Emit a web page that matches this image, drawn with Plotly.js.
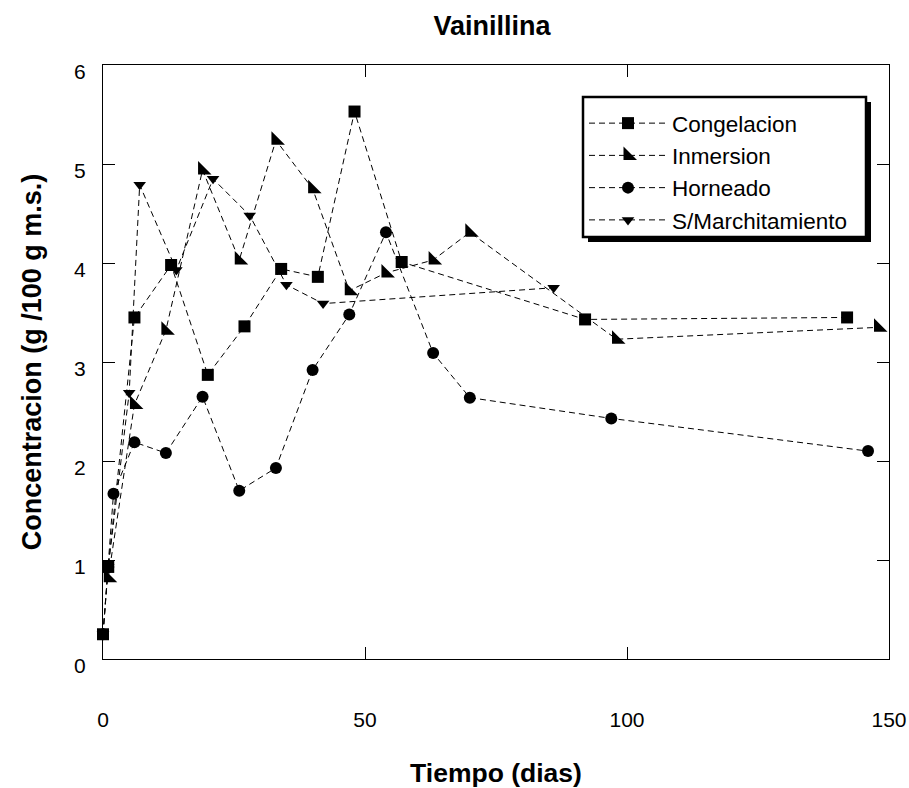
<!DOCTYPE html>
<html>
<head>
<meta charset="utf-8">
<script src="https://cdn.plot.ly/plotly-3.0.1.min.js"></script>
<style>html,body{margin:0;padding:0;background:#fff;}#chart{width:909px;height:788px;}</style>
</head>
<body>
<div id="chart"></div>
<script>
// ---- data ----
const seriesNames = ["Congelacion", "Inmersion", "Horneado", "S/Marchitamiento"];

const congX = [0, 1, 6, 13, 20, 27, 34, 41, 48, 57, 92, 142];
const congY = [0.25, 0.93, 3.45, 3.98, 2.87, 3.36, 3.94, 3.86, 5.53, 4.01, 3.43, 3.45];

const inmX = [1, 6, 12, 19, 26, 33, 40, 47, 54, 63, 70, 98, 148];
const inmY = [0.82, 2.57, 3.32, 4.94, 4.03, 5.24, 4.75, 3.72, 3.9, 4.03, 4.31, 3.23, 3.35];

const hornX = [0, 1, 2, 6, 12, 19, 26, 33, 40, 47, 54, 63, 70, 97, 146];
const hornY = [0.25, 0.93, 1.67, 2.19, 2.08, 2.65, 1.7, 1.93, 2.92, 3.48, 4.31, 3.09, 2.64, 2.43, 2.1];

const smX = [0, 1, 5, 7, 14, 21, 28, 35, 42, 86];
const smY = [0.25, 0.93, 2.69, 4.79, 3.93, 4.85, 4.48, 3.78, 3.59, 3.75];

const xTicks = [0, 50, 100, 150];
const yTicks = [0, 1, 2, 3, 4, 5, 6];

// ---- styling ----
const FONT = "Arial, 'Liberation Sans', Helvetica, sans-serif";
const lineStyle = {color: "#000", width: 1, dash: "6px,4px"};

function mk(name, x, y, symbol, size) {
  return {
    type: "scatter", mode: "lines+markers", name: name, x: x, y: y,
    line: lineStyle, cliponaxis: false,
    marker: {symbol: symbol, size: size, color: "#000", line: {width: 0}},
    hoverinfo: "x+y"
  };
}

// drawn in reverse so Congelacion markers sit on top; legend reversed back
const traces = [
  mk(seriesNames[3], smX, smY, "triangle-down", 11),
  mk(seriesNames[2], hornX, hornY, "circle", 12),
  mk(seriesNames[1], inmX, inmY, "triangle-sw", 15),
  mk(seriesNames[0], congX, congY, "square", 12)
];

const axisCommon = {
  showgrid: false, zeroline: false, showline: true, linecolor: "#000", linewidth: 1,
  mirror: "ticks", ticks: "inside", ticklen: 12, tickwidth: 1, tickcolor: "#000",
  tickfont: {family: FONT, size: 21, color: "#000"}
};

// legend frame (pixel box converted to paper coordinates of the plot area)
const PL = 103, PT = 65, PW = 786, PH = 594;
function px2paperX(p) { return (p - PL) / PW; }
function px2paperY(p) { return 1 - (p - PT) / PH; }
const box = {l: 583, t: 97, r: 866, b: 237}, sh = 5;

const layout = {
  width: 909, height: 788,
  margin: {l: PL, r: 909 - PL - PW, t: PT, b: 788 - PT - PH},
  paper_bgcolor: "#fff", plot_bgcolor: "#fff",
  font: {family: FONT, color: "#000"},
  title: {text: "<b>Vainillina</b>", font: {family: FONT, size: 27, color: "#000"},
          xref: "paper", x: 0.495, xanchor: "center", yref: "container", y: 1 - 26/788, yanchor: "middle"},
  xaxis: Object.assign({}, axisCommon, {
    range: [0, 150], tickvals: xTicks, ticktext: xTicks.map(String),
    ticklabelstandoff: 42,
    title: {text: "<b>Tiempo (dias)</b>", font: {family: FONT, size: 26.5, color: "#000"}, standoff: 33}
  }),
  yaxis: Object.assign({}, axisCommon, {
    range: [0, 6], tickvals: yTicks, ticktext: yTicks.map(String),
    ticklabelstandoff: 12, ticklabelshift: 7,
    title: {text: "<b>Concentracion (g /100 g m.s.)</b>", font: {family: FONT, size: 27, color: "#000"}, standoff: 24}
  }),
  showlegend: true,
  legend: {
    x: px2paperX(box.l + 1), y: px2paperY(box.t + 5), xanchor: "left", yanchor: "top",
    bgcolor: "rgba(0,0,0,0)", borderwidth: 0,
    font: {family: FONT, size: 22.5, color: "#000"},
    traceorder: "reversed", itemwidth: 78, tracegroupgap: 0
  },
  shapes: [
    {type: "rect", xref: "paper", yref: "paper", layer: "above",
     x0: px2paperX(box.l + sh), x1: px2paperX(box.r + sh), y0: px2paperY(box.b + sh), y1: px2paperY(box.t + sh),
     fillcolor: "#000", line: {width: 0}},
    {type: "rect", xref: "paper", yref: "paper", layer: "above",
     x0: px2paperX(box.l), x1: px2paperX(box.r), y0: px2paperY(box.b), y1: px2paperY(box.t),
     fillcolor: "#fff", line: {color: "#000", width: 2.5}}
  ]
};

Plotly.newPlot("chart", traces, layout, {displayModeBar: false, staticPlot: true});
</script>
</body>
</html>
